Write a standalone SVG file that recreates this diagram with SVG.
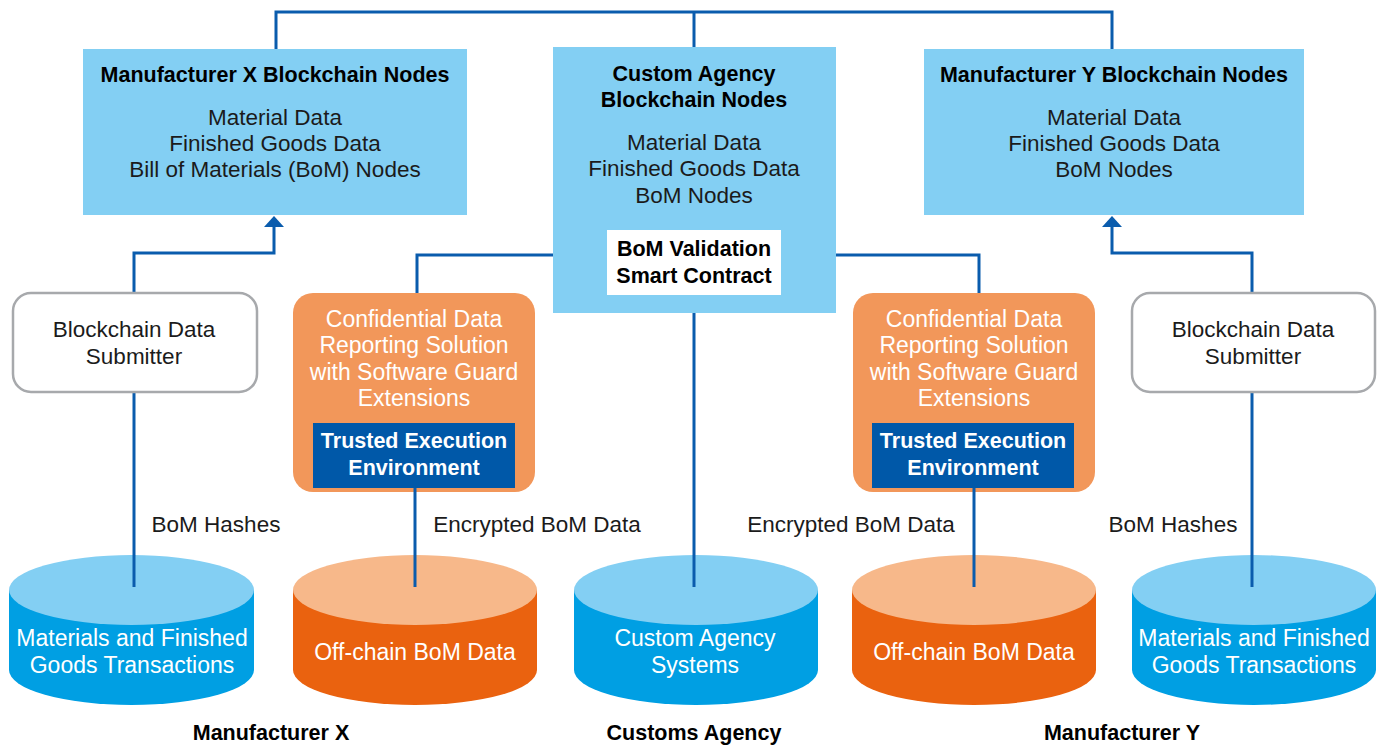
<svg xmlns="http://www.w3.org/2000/svg" width="1390" height="747" viewBox="0 0 1390 747">
<style>
.bg{fill:#ffffff}
.chain{fill:#83cff3}
.sub{fill:#ffffff;stroke:#a7a9ac;stroke-width:2.5}
.conf{fill:#f2975a}
.tee{fill:#0058a8}
.wbox{fill:#ffffff}
.ln{fill:none;stroke:#0a5cad;stroke-width:3}
.t{font-family:"Liberation Sans",Arial,sans-serif;text-anchor:middle}
.b{font-weight:bold}
.dk{fill:#1b1b1b}
.bk{fill:#000000}
.wt{fill:#ffffff}
.s21{font-size:21.5px}
.s22{font-size:22.5px}
.s23{font-size:23px}
.ctopB{fill:#83cff3}
.csideB{fill:#009fe3}
.ctopO{fill:#f7b88a}
.csideO{fill:#ea620f}
.ah{fill:#0a5cad}
</style>
<rect class="bg" x="0" y="0" width="1390" height="747"/>

<g id="connectors">
<path class="ln" d="M276,49 V12 H1112 V49"/>
<path class="ln" d="M694,12 V47"/>
<path class="ln" d="M134,293 V253 H274 V226"/>
<path class="ah" d="M264,227 L274,216 L284,227 Z"/>
<path class="ln" d="M1252,293 V253 H1112 V226"/>
<path class="ah" d="M1102,227 L1112,216 L1122,227 Z"/>
<path class="ln" d="M553,255 H417 V293"/>
<path class="ln" d="M836,255 H979 V293"/>
<path class="ln" d="M694,313 V587"/>
<path class="ln" d="M134,392 V587"/>
<path class="ln" d="M1252,392 V587"/>
</g>

<g id="mfx-nodes">
<rect class="chain" x="83" y="49" width="384" height="166"/>
<text class="t b bk s21" x="275" y="82">Manufacturer X Blockchain Nodes</text>
<text class="t dk s22" x="275" y="125">Material Data</text>
<text class="t dk s22" x="275" y="151">Finished Goods Data</text>
<text class="t dk s22" x="275" y="177">Bill of Materials (BoM) Nodes</text>
</g>

<g id="custom-nodes">
<rect class="chain" x="553" y="47" width="283" height="266"/>
<text class="t b bk s21" x="694" y="81">Custom Agency</text>
<text class="t b bk s21" x="694" y="107">Blockchain Nodes</text>
<text class="t dk s22" x="694" y="150">Material Data</text>
<text class="t dk s22" x="694" y="176">Finished Goods Data</text>
<text class="t dk s22" x="694" y="203">BoM Nodes</text>
<rect class="wbox" x="607" y="230" width="174" height="65"/>
<text class="t b bk s21" x="694" y="256">BoM Validation</text>
<text class="t b bk s21" x="694" y="283">Smart Contract</text>
</g>

<g id="mfy-nodes">
<rect class="chain" x="924" y="49" width="380" height="166"/>
<text class="t b bk s21" x="1114" y="82">Manufacturer Y Blockchain Nodes</text>
<text class="t dk s22" x="1114" y="125">Material Data</text>
<text class="t dk s22" x="1114" y="151">Finished Goods Data</text>
<text class="t dk s22" x="1114" y="177">BoM Nodes</text>
</g>

<g id="submitter-x">
<rect class="sub" x="13" y="293" width="244" height="99" rx="18"/>
<text class="t dk s22" x="134" y="337">Blockchain Data</text>
<text class="t dk s22" x="134" y="364">Submitter</text>
</g>

<g id="submitter-y">
<rect class="sub" x="1132" y="293" width="243" height="99" rx="18"/>
<text class="t dk s22" x="1253" y="337">Blockchain Data</text>
<text class="t dk s22" x="1253" y="364">Submitter</text>
</g>

<g id="conf-x">
<rect class="conf" x="293" y="293" width="242" height="199" rx="20"/>
<text class="t wt s23" x="414" y="327">Confidential Data</text>
<text class="t wt s23" x="414" y="353">Reporting Solution</text>
<text class="t wt s23" x="414" y="380">with Software Guard</text>
<text class="t wt s23" x="414" y="406">Extensions</text>
<rect class="tee" x="313" y="423" width="202" height="65"/>
<text class="t b wt s21" x="414" y="448">Trusted Execution</text>
<text class="t b wt s21" x="414" y="475">Environment</text>
</g>

<g id="conf-y">
<rect class="conf" x="853" y="293" width="242" height="199" rx="20"/>
<text class="t wt s23" x="974" y="327">Confidential Data</text>
<text class="t wt s23" x="974" y="353">Reporting Solution</text>
<text class="t wt s23" x="974" y="380">with Software Guard</text>
<text class="t wt s23" x="974" y="406">Extensions</text>
<rect class="tee" x="872" y="423" width="202" height="65"/>
<text class="t b wt s21" x="973" y="448">Trusted Execution</text>
<text class="t b wt s21" x="973" y="475">Environment</text>
</g>

<g id="tee-lines">
<path class="ln" d="M415,488 V587"/>
<path class="ln" d="M974,488 V587"/>
</g>

<g id="labels">
<text class="t dk s22" x="216" y="532">BoM Hashes</text>
<text class="t dk s22" x="537" y="532">Encrypted BoM Data</text>
<text class="t dk s22" x="851" y="532">Encrypted BoM Data</text>
<text class="t dk s22" x="1173" y="532">BoM Hashes</text>
</g>

<g id="db-mfx">
<path class="csideB" d="M9,590 V670 A122.5,35 0 0 0 254,670 V590 Z"/>
<ellipse class="ctopB" cx="131.5" cy="590" rx="122.5" ry="35"/>
<text class="t wt s23" x="132" y="646">Materials and Finished</text>
<text class="t wt s23" x="132" y="673">Goods Transactions</text>
</g>

<g id="db-offx">
<path class="csideO" d="M293,590 V670 A122,35 0 0 0 537,670 V590 Z"/>
<ellipse class="ctopO" cx="415" cy="590" rx="122" ry="35"/>
<text class="t wt s23" x="415" y="660">Off-chain BoM Data</text>
</g>

<g id="db-custom">
<path class="csideB" d="M574,590 V670 A122,35 0 0 0 818,670 V590 Z"/>
<ellipse class="ctopB" cx="696" cy="590" rx="122" ry="35"/>
<text class="t wt s23" x="695" y="646">Custom Agency</text>
<text class="t wt s23" x="695" y="673">Systems</text>
</g>

<g id="db-offy">
<path class="csideO" d="M852,590 V670 A122,35 0 0 0 1096,670 V590 Z"/>
<ellipse class="ctopO" cx="974" cy="590" rx="122" ry="35"/>
<text class="t wt s23" x="974" y="660">Off-chain BoM Data</text>
</g>

<g id="db-mfy">
<path class="csideB" d="M1132,590 V670 A122,35 0 0 0 1376,670 V590 Z"/>
<ellipse class="ctopB" cx="1254" cy="590" rx="122" ry="35"/>
<text class="t wt s23" x="1254" y="646">Materials and Finished</text>
<text class="t wt s23" x="1254" y="673">Goods Transactions</text>
</g>

<g id="db-stubs">
<path class="ln" d="M134,555 V587"/>
<path class="ln" d="M415,555 V587"/>
<path class="ln" d="M694,555 V587"/>
<path class="ln" d="M974,555 V587"/>
<path class="ln" d="M1252,555 V587"/>
</g>

<g id="group-labels">
<text class="t b bk s21" x="271" y="740">Manufacturer X</text>
<text class="t b bk s21" x="694" y="740">Customs Agency</text>
<text class="t b bk s21" x="1122" y="740">Manufacturer Y</text>
</g>
</svg>
